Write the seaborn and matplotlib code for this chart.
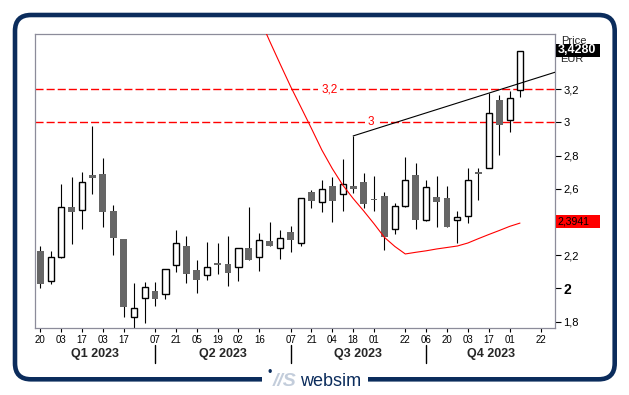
"""Weekly candlestick chart with indicator, trend line and levels."""

import matplotlib

matplotlib.use("Agg")
import matplotlib.dates as mdates
import matplotlib.pyplot as plt
from matplotlib.patches import FancyBboxPatch, Rectangle
from matplotlib.transforms import IdentityTransform
import numpy as np
import pandas as pd
import seaborn as sns

# weekly candles, first week 20 Jan 2023
week_dates = pd.date_range("2023-01-20", periods=47, freq="7D")
opens = [2.226, 2.043, 2.192, 2.489, 2.471, 2.684, 2.690, 2.467, 2.298, 1.826,
         1.941, 1.983, 1.965, 2.140, 2.254, 2.111, 2.079, 2.154, 2.146, 2.132,
         2.242, 2.188, 2.286, 2.242, 2.340, 2.272, 2.581, 2.523, 2.620, 2.567,
         2.620, 2.640, 2.539, 2.555, 2.360, 2.499, 2.684, 2.413, 2.551, 2.543,
         2.411, 2.435, 2.700, 2.724, 3.136, 3.013, 3.196]
highs = [2.256, 2.226, 2.630, 2.672, 2.700, 2.979, 2.786, 2.501, 2.298, 2.031,
         2.037, 2.037, 2.115, 2.352, 2.316, 2.172, 2.280, 2.274, 2.316, 2.242,
         2.491, 2.332, 2.403, 2.352, 2.377, 2.543, 2.593, 2.652, 2.672, 2.782,
         2.919, 2.696, 2.678, 2.579, 2.515, 2.792, 2.756, 2.652, 2.678, 2.618,
         2.467, 2.726, 2.726, 3.180, 3.164, 3.190, 3.433]
lows = [2.005, 2.029, 2.186, 2.270, 2.360, 2.571, 2.373, 2.204, 1.830, 1.760,
        1.794, 1.897, 1.939, 2.101, 2.035, 1.975, 2.053, 2.089, 2.017, 2.047,
        2.174, 2.107, 2.258, 2.176, 2.222, 2.258, 2.487, 2.463, 2.403, 2.467,
        2.577, 2.487, 2.467, 2.232, 2.326, 2.493, 2.358, 2.409, 2.373, 2.373,
        2.276, 2.397, 2.533, 2.724, 2.804, 2.945, 3.154]
closes = [2.029, 2.190, 2.489, 2.463, 2.640, 2.668, 2.463, 2.306, 1.890, 1.880,
          2.007, 1.935, 2.115, 2.272, 2.089, 2.049, 2.132, 2.142, 2.095, 2.242,
          2.174, 2.290, 2.258, 2.302, 2.290, 2.543, 2.529, 2.597, 2.529, 2.630,
          2.601, 2.507, 2.531, 2.310, 2.495, 2.652, 2.413, 2.610, 2.523, 2.373,
          2.429, 2.656, 2.688, 3.055, 2.987, 3.146, 3.428]

# red indicator, covers the last 26 weeks
curve_vals = [3.631, 3.489, 3.352, 3.217, 3.091, 2.964, 2.834, 2.722, 2.623,
              2.542, 2.468, 2.390, 2.308, 2.253, 2.208, 2.218, 2.227, 2.238,
              2.247, 2.256, 2.274, 2.300, 2.325, 2.349, 2.374, 2.394]

# trend line from the August spike
trend_dates = pd.to_datetime(["2023-08-18", "2024-01-01"])
trend_vals = [2.919, 3.304]

levels = [3.2, 3.0]
level_labels = ["3,2", "3"]
level_label_dates = pd.to_datetime(["2023-08-02", "2023-08-30"])

tick_dates = pd.to_datetime([
    "2023-01-20", "2023-02-03", "2023-02-17", "2023-03-03", "2023-03-17",
    "2023-04-07", "2023-04-21", "2023-05-05", "2023-05-19", "2023-06-02",
    "2023-06-16", "2023-07-07", "2023-07-21", "2023-08-04", "2023-08-18",
    "2023-09-01", "2023-09-22", "2023-10-06", "2023-10-20", "2023-11-03",
    "2023-11-17", "2023-12-01", "2023-12-22"])
quarter_starts = pd.to_datetime(["2023-04-07", "2023-07-07", "2023-10-06"])
quarter_labels = ["Q1 2023", "Q2 2023", "Q3 2023", "Q4 2023"]

y_ticks = [1.8, 2.0, 2.2, 2.4, 2.6, 2.8, 3.0, 3.2, 3.4]
y_tick_labels = ["1,8", "2", "2,2", "", "2,6", "2,8", "3", "3,2", ""]

last_price = 3.428
last_price_label = "3,4280"
curve_last_label = "2,3941"

NAVY = "#0b2c5c"
FRAME = "#8c8c9a"

sns.set_theme(style="white")
plt.rcParams["font.family"] = ["Liberation Sans", "DejaVu Sans"]

fig = plt.figure(figsize=(6.29, 3.95), dpi=100)
ax = fig.add_axes([35 / 629, 1 - 328 / 395, 520 / 629, 294 / 395])

x = mdates.date2num(week_dates)
o = np.array(opens)
c = np.array(closes)
up = c >= o
body_lo = np.minimum(o, c)
body_h = np.abs(c - o)

# candles
ax.vlines(x, lows, highs, color="black", linewidth=0.8, zorder=2)
ax.bar(x[up], body_h[up], bottom=body_lo[up], width=4.1,
       facecolor="white", edgecolor="black", linewidth=1.0, zorder=3)
ax.bar(x[~up], body_h[~up], bottom=body_lo[~up], width=4.6,
       color="#666666", linewidth=0, zorder=3)

# levels
for lvl, lab, d in zip(levels, level_labels, level_label_dates):
    ax.axhline(lvl, color="red", linewidth=1.0, linestyle=(0, (5.8, 2.2)), zorder=1.5)
    ax.text(mdates.date2num(d), lvl, lab, color="red", fontsize=8.5,
            ha="center", va="center", zorder=1.8,
            bbox=dict(facecolor="white", edgecolor="none", pad=2))

curve_x = x[-len(curve_vals):]
sns.lineplot(x=curve_x, y=curve_vals, color="red", linewidth=0.8, ax=ax, zorder=4)
sns.lineplot(x=mdates.date2num(trend_dates), y=trend_vals, color="black",
             linewidth=0.8, ax=ax, zorder=4)

x_left = mdates.date2num(pd.Timestamp("2023-01-16 10:00"))
x_right = mdates.date2num(pd.Timestamp("2023-12-31 12:00"))
ax.set_xlim(x_left, x_right)
ax.set_ylim(1.762, 3.533)

# axes look
for sp in ax.spines.values():
    sp.set_color(FRAME)
    sp.set_linewidth(0.9)
ax.yaxis.tick_right()
ax.set_yticks(y_ticks)
ax.set_yticklabels(y_tick_labels)
ax.tick_params(axis="y", which="both", right=True, left=False, length=4,
               width=0.8, color="black", labelsize=8, pad=2, labelcolor="black")
for t in ax.get_yticklabels():
    if t.get_text() == "2":
        t.set_fontweight("bold")
        t.set_fontsize(10)

ax.set_xticks(mdates.date2num(tick_dates))
ax.set_xticklabels([d.strftime("%d") for d in tick_dates])
ax.tick_params(axis="x", bottom=True, length=3, width=0.8, color="black",
               labelsize=7, pad=2, labelcolor="black")
ax.set_xlabel("")
ax.set_ylabel("")
ax.grid(False)

# quarter separators and labels
bounds = [x_left] + list(mdates.date2num(quarter_starts)) + [x_right]
xt = ax.get_xaxis_transform()
for sx in mdates.date2num(quarter_starts):
    ax.plot([sx, sx], [-0.058, -0.118], transform=xt, color="black",
            linewidth=1.0, clip_on=False)
for i, lab in enumerate(quarter_labels):
    ax.text((bounds[i] + bounds[i + 1]) / 2, -0.087, lab, transform=xt,
            ha="center", va="center", fontsize=9, fontweight="bold")

# right side labels
yt = ax.get_yaxis_transform()
ax.text(1.012, 3.49, "Price", transform=yt, fontsize=8, va="center",
        ha="left", clip_on=False)
ax.text(1.010, 3.382, "EUR", transform=yt, fontsize=8, va="center",
        ha="left", clip_on=False)
ax.add_patch(Rectangle((1.002, last_price - 0.033), 0.085, 0.078, transform=yt,
                       facecolor="black", edgecolor="none", clip_on=False, zorder=5))
ax.text(1.005, last_price + 0.006, last_price_label, transform=yt, color="white",
        fontsize=9, fontweight="bold", va="center", ha="left", zorder=6)
ax.add_patch(Rectangle((1.002, curve_vals[-1] - 0.031), 0.085, 0.08, transform=yt,
                       facecolor="red", edgecolor="none", clip_on=False, zorder=5))
ax.text(1.005, curve_vals[-1] + 0.009, curve_last_label, transform=yt,
        color="black", fontsize=7.5, va="center", ha="left", zorder=6)

# outer rounded frame with logo
frame = FancyBboxPatch((15, 15.7), 599.7, 364.3,
                       boxstyle="round,pad=0,rounding_size=16",
                       transform=IdentityTransform(), facecolor="none",
                       edgecolor=NAVY, linewidth=3.3)
fig.add_artist(frame)
fig.add_artist(Rectangle((262, 4), 106, 20, transform=IdentityTransform(),
                         facecolor="white", edgecolor="none"))
fig.text(270 / 629, 1 - 373 / 395, "\u2022", color=NAVY, fontsize=9,
         ha="center", va="center")
fig.text(285 / 629, 1 - 382 / 395, "//S", color="#c3cddb", fontsize=14,
         fontweight="bold", style="italic", ha="center", va="center")
fig.text(331 / 629, 1 - 381 / 395, "websim", color=NAVY, fontsize=13,
         ha="center", va="center")

fig.savefig("out.png", dpi=100)
plt.close(fig)
